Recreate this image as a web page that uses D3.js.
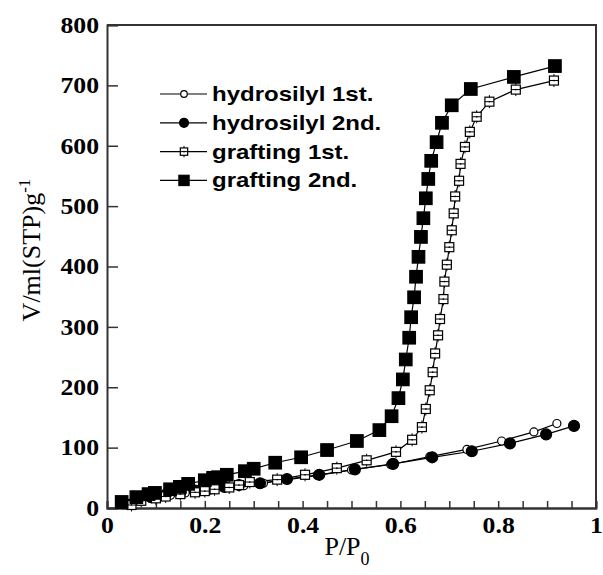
<!DOCTYPE html>
<html>
<head>
<meta charset="utf-8">
<script src="https://cdn.jsdelivr.net/npm/d3@7/dist/d3.min.js"></script>
<style>
  body { margin: 0; background: #fff; }
  svg { display: block; }
</style>
</head>
<body>
<div id="chart"></div>
<script>
// isotherm data (P/P0 , V ml(STP)/g)
var hydro1X = [0.04, 0.07, 0.10, 0.13, 0.16, 0.19, 0.22, 0.25, 0.28, 0.32, 0.37, 0.43, 0.50, 0.58, 0.66, 0.736, 0.807, 0.873, 0.92];
var hydro1V = [7, 13, 17, 21, 25, 28, 31, 34, 37, 41, 47, 54, 63, 72, 85, 97, 111, 126, 140];

var hydro2X = [0.035, 0.065, 0.09, 0.12, 0.15, 0.18, 0.21, 0.24, 0.27, 0.313, 0.368, 0.434, 0.507, 0.585, 0.665, 0.746, 0.824, 0.898, 0.955];
var hydro2V = [8, 14, 18, 22, 26, 29, 32, 35, 38, 41, 48, 55, 64, 73, 84, 94, 107, 122, 136];

var graft1X = [0.05, 0.07, 0.10, 0.12, 0.15, 0.18, 0.20, 0.22, 0.25, 0.27, 0.292, 0.348, 0.405, 0.47, 0.531, 0.591, 0.624, 0.644, 0.652, 0.66, 0.666, 0.671, 0.677, 0.681, 0.688, 0.69, 0.695, 0.70, 0.705, 0.709, 0.712, 0.72, 0.723, 0.732, 0.742, 0.756, 0.782, 0.836, 0.914];
var graft1V = [5, 12, 16, 19, 23, 26, 28, 31, 34, 38, 43, 47, 55, 66, 79, 93, 113, 134, 164, 195, 225, 256, 286, 313, 346, 375, 403, 432, 460, 488, 516, 542, 570, 598, 623, 648, 673, 693, 708];

var graft2X = [0.03, 0.06, 0.085, 0.098, 0.129, 0.149, 0.166, 0.20, 0.217, 0.227, 0.245, 0.282, 0.30, 0.344, 0.397, 0.45, 0.511, 0.557, 0.582, 0.596, 0.605, 0.611, 0.618, 0.622, 0.628, 0.632, 0.637, 0.642, 0.647, 0.652, 0.657, 0.663, 0.674, 0.685, 0.705, 0.744, 0.832, 0.916];
var graft2V = [10, 18, 23, 25, 31, 35, 40, 46, 50, 51, 55, 61, 65, 75, 84, 96, 111, 129, 152, 182, 213, 246, 282, 316, 349, 383, 416, 449, 480, 513, 545, 575, 606, 638, 667, 694, 714, 732];

var seriesNames = ["hydrosilyl 1st.", "hydrosilyl 2nd.", "grafting 1st.", "grafting 2nd."];
var xTicks = [0, 0.2, 0.4, 0.6, 0.8, 1];
var yTicks = [0, 100, 200, 300, 400, 500, 600, 700, 800];

var W = 603, H = 575;
var plotLeft = 107, plotRight = 596, plotTop = 25, plotBottom = 508;

var svg = d3.select("#chart").append("svg")
  .attr("width", W)
  .attr("height", H);

var x = d3.scaleLinear().domain([0, 1]).range([plotLeft, plotRight]);
var y = d3.scaleLinear().domain([0, 800]).range([plotBottom, plotTop]);

var axisColor = "#333";
var serif = "'Liberation Serif', 'Times New Roman', serif";

// frame: top and right edges
svg.append("line")
  .attr("x1", plotLeft).attr("y1", plotTop).attr("x2", plotRight + 1).attr("y2", plotTop)
  .style("stroke", axisColor).style("stroke-width", 2);
svg.append("line")
  .attr("x1", plotRight).attr("y1", plotTop).attr("x2", plotRight).attr("y2", plotBottom)
  .style("stroke", axisColor).style("stroke-width", 2);

// y axis, ticks pointing inward
var yAxis = svg.append("g")
  .attr("transform", "translate(" + plotLeft + ",0)")
  .call(d3.axisRight(y).tickValues(yTicks).tickSize(11).tickFormat(d3.format("d")));
yAxis.selectAll("text")
  .attr("x", 0)
  .attr("transform", "translate(-8,0) scale(1.12,1)")
  .attr("text-anchor", "end")
  .style("font-family", serif)
  .style("font-weight", "bold")
  .style("font-size", "23px")
  .style("fill", "#000");

// x axis, minor ticks every 0.05 inside
var xMinor = svg.append("g")
  .attr("transform", "translate(0," + plotBottom + ")")
  .call(d3.axisTop(x).tickValues(d3.range(0, 1.0001, 0.05)).tickSize(7).tickFormat(""));
var xAxis = svg.append("g")
  .attr("transform", "translate(0," + plotBottom + ")")
  .call(d3.axisBottom(x).tickValues(xTicks).tickSize(0).tickFormat(function (d) { return d === 0 || d === 1 ? d : d3.format(".1f")(d); }));
xAxis.selectAll("text")
  .attr("y", 0)
  .attr("transform", "translate(0,9) scale(1.12,1)")
  .style("font-family", serif)
  .style("font-weight", "bold")
  .style("font-size", "23px")
  .style("fill", "#000");

[yAxis, xMinor, xAxis].forEach(function (g) {
  g.select(".domain").style("stroke", axisColor).style("stroke-width", 2);
  g.selectAll(".tick line").style("stroke", axisColor).style("stroke-width", 1.5);
});

// axis titles
var yTitle = svg.append("text")
  .attr("transform", "translate(40,250) rotate(-90)")
  .attr("text-anchor", "middle")
  .style("font-family", serif)
  .style("font-size", "26px");
yTitle.append("tspan").text("V/ml(STP)g");
yTitle.append("tspan").attr("dy", -10).style("font-size", "17px").text("-1");

var xTitle = svg.append("text")
  .attr("x", 347).attr("y", 555)
  .attr("text-anchor", "middle")
  .style("font-family", serif)
  .style("font-size", "26px");
xTitle.append("tspan").text("P/P");
xTitle.append("tspan").attr("dy", 10).style("font-size", "18px").text("0");

// series
var line = d3.line()
  .x(function (d) { return x(d[0]); })
  .y(function (d) { return y(d[1]); });

function pairs(xs, vs) {
  return xs.map(function (v, i) { return [v, vs[i]]; });
}

var series = [
  { name: seriesNames[0], data: pairs(hydro1X, hydro1V), marker: "circle", fill: "#fff", size: 4 },
  { name: seriesNames[1], data: pairs(hydro2X, hydro2V), marker: "circle", fill: "#000", size: 5.5 },
  { name: seriesNames[2], data: pairs(graft1X, graft1V), marker: "square", fill: "#fff", size: 9 },
  { name: seriesNames[3], data: pairs(graft2X, graft2V), marker: "square", fill: "#000", size: 12.5 }
];

function drawMarker(g, s, cx, cy) {
  if (s.marker === "circle") {
    g.append("circle")
      .attr("cx", cx).attr("cy", cy).attr("r", s.size)
      .style("fill", s.fill).style("stroke", "#000").style("stroke-width", 1.2);
  } else {
    var h = s.size / 2;
    g.append("rect")
      .attr("x", cx - h).attr("y", cy - h)
      .attr("width", s.size).attr("height", s.size)
      .style("fill", s.fill).style("stroke", "#000").style("stroke-width", 1.2);
    if (s.fill === "#fff") {
      // open squares: middle bar, centre dot and short stubs top and bottom
      g.append("line")
        .attr("x1", cx - h).attr("y1", cy).attr("x2", cx + h).attr("y2", cy)
        .style("stroke", "#000").style("stroke-width", 1);
      g.append("rect")
        .attr("x", cx - 0.7).attr("y", cy - 0.7).attr("width", 1.4).attr("height", 1.4)
        .style("fill", "#000");
      g.append("line")
        .attr("x1", cx).attr("y1", cy - h - 2).attr("x2", cx).attr("y2", cy - h)
        .style("stroke", "#000").style("stroke-width", 1);
      g.append("line")
        .attr("x1", cx).attr("y1", cy + h).attr("x2", cx).attr("y2", cy + h + 2)
        .style("stroke", "#000").style("stroke-width", 1);
    }
  }
}

series.forEach(function (s) {
  svg.append("path")
    .datum(s.data)
    .attr("d", line)
    .style("fill", "none")
    .style("stroke", "#000")
    .style("stroke-width", 1.2);
});

series.forEach(function (s) {
  var g = svg.append("g");
  s.data.forEach(function (d) { drawMarker(g, s, x(d[0]), y(d[1])); });
});

// legend
var legend = svg.append("g");
series.forEach(function (s, i) {
  var ly = 94 + i * 28.8;
  legend.append("line")
    .attr("x1", 160).attr("y1", ly).attr("x2", 207).attr("y2", ly)
    .style("stroke", "#000").style("stroke-width", 1.2);
  var ls = Object.assign({}, s, { size: s.size * 0.82 });
  drawMarker(legend, ls, 184, ly);
  legend.append("text")
    .attr("transform", "translate(212," + (ly + 7) + ") scale(1.2,1)")
    .style("font-family", "'Liberation Sans', Arial, sans-serif")
    .style("font-weight", "bold")
    .style("font-size", "20px")
    .text(s.name);
});
</script>
</body>
</html>
